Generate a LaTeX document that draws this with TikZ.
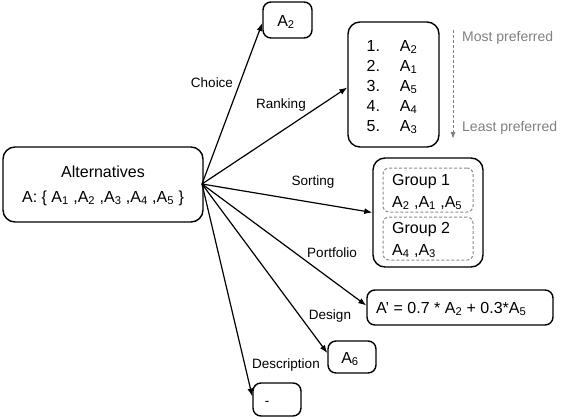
\documentclass[tikz,border=0pt]{standalone}
\usepackage{fontspec}
\setmainfont{Liberation Sans}
\usetikzlibrary{arrows.meta}
\definecolor{prefgray}{HTML}{808080}
\definecolor{grpgray}{HTML}{8C8C8C}
\begin{document}
\begin{tikzpicture}[x=1pt,y=-1pt,
  box/.style={draw, line width=1.4pt, rounded corners=8pt, inner sep=0pt},
  bigbox/.style={box, rounded corners=12pt},
  grp/.style={draw=grpgray, dashed, dash pattern=on 3pt off 2pt, line width=1pt, rounded corners=6pt, inner sep=0pt},
  arr/.style={-{Latex[length=8pt,width=6pt]}, line width=1.2pt},
  lbl/.style={font=\fontsize{13.5}{16}\selectfont, inner sep=0pt},
  txt/.style={font=\fontsize{16}{20}\selectfont, inner sep=0pt},
  pref/.style={font=\fontsize{14}{16}\selectfont, text=prefgray, inner sep=0pt, anchor=west},
]
\useasboundingbox (0,0) rectangle (561,418);

% source
\node[bigbox, minimum width=200pt, minimum height=75pt] (alt) at (103,184.5) {};
\node[txt] (altt) at (103,172) {Alternatives};
\node[txt] (alts) at (103,198) {A: \{ A\textsubscript{1} ,A\textsubscript{2} ,A\textsubscript{3} ,A\textsubscript{4} ,A\textsubscript{5} \}};
\coordinate (o) at (202,184);

% choice
\node[box, minimum width=49pt, minimum height=36pt] (a2) at (287.5,20) {};
\node[txt] (a2t) at (286,22) {A\textsubscript{2}};

% ranking
\node[bigbox, minimum width=91pt, minimum height=125pt] (rank) at (393.5,84.5) {};
\node[txt, font=\fontsize{16}{20}\selectfont] (rankt) at (392,87)
  {\begin{tabular}{@{}l@{\hspace{20pt}}l@{}}
   1. & A\textsubscript{2}\\
   2. & A\textsubscript{1}\\
   3. & A\textsubscript{5}\\
   4. & A\textsubscript{4}\\
   5. & A\textsubscript{3}
   \end{tabular}};
\coordinate (mp) at (453,30);
\coordinate (lp) at (453,139);
\draw[draw=prefgray, line width=1pt, dash pattern=on 3pt off 2pt, -{Latex[length=7pt,width=5pt]}] (mp) -- (lp);
\node[pref] (mpt) at (462,38) {Most preferred};
\node[pref] (lpt) at (462,128) {Least preferred};

% sorting
\node[bigbox, minimum width=110pt, minimum height=109pt] (sort) at (428,212.5) {};
\node[grp, minimum width=90pt, minimum height=44pt] (g1) at (428,190) {};
\node[grp, minimum width=90pt, minimum height=43pt] (g2) at (428,238.5) {};
\node[txt, anchor=west] (g1a) at (392,182) {Group 1};
\node[txt, anchor=west] (g1b) at (392,203) {A\textsubscript{2} ,A\textsubscript{1} ,A\textsubscript{5}};
\node[txt, anchor=west] (g2a) at (392,230) {Group 2};
\node[txt, anchor=west] (g2b) at (392,251) {A\textsubscript{4} ,A\textsubscript{3}};

% portfolio
\node[box, minimum width=186pt, minimum height=35pt] (ap) at (460,307.5) {};
\node[txt, anchor=west] (apt) at (376,309) {A' = 0.7 * A\textsubscript{2} + 0.3*A\textsubscript{5}};

% design
\node[box, minimum width=48pt, minimum height=32pt] (a6) at (352,357) {};
\node[txt] (a6t) at (350,359) {A\textsubscript{6}};

% description
\node[box, minimum width=48pt, minimum height=33pt] (dsc) at (277,399.5) {};
\node[lbl] (dsct) at (267,403) {-};

% arrows
\draw[arr] (o) -- ([yshift=-3pt]a2.west);
\draw[arr] (o) -- ([yshift=-3pt]rank.west);
\draw[arr] (o) -- (sort.west);
\draw[arr] (o) -- ([yshift=2pt]ap.west);
\draw[arr] (o) -- ([yshift=4pt]a6.west);
\draw[arr] (o) -- ([yshift=3pt]dsc.west);

% labels
\node[lbl] (lchoice) at (212,83) {Choice};
\node[lbl] (lrank) at (281,105) {Ranking};
\node[lbl] (lsort) at (313,182) {Sorting};
\node[lbl] (lport) at (332,253) {Portfolio};
\node[lbl] (ldesign) at (330,316) {Design};
\node[lbl] (ldesc) at (286,365) {Description};
\end{tikzpicture}
\end{document}
